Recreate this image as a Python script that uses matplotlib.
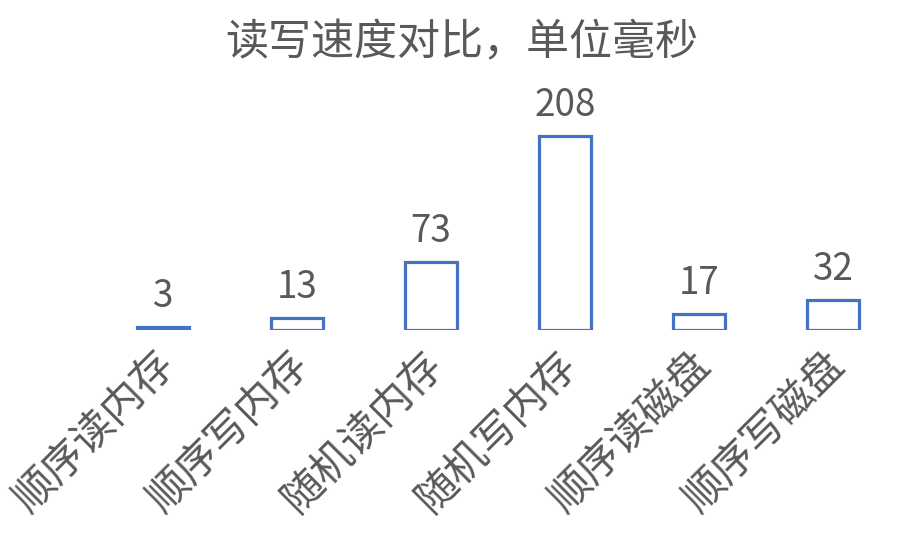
import matplotlib
matplotlib.use("Agg")
import matplotlib.pyplot as plt
from matplotlib.transforms import ScaledTranslation

plt.rcParams['font.family'] = ['Noto Sans CJK SC', 'DejaVu Sans']

categories = ['顺序读内存', '顺序写内存', '随机读内存', '随机写内存', '顺序读磁盘', '顺序写磁盘']
values = [3, 13, 73, 208, 17, 32]
title = '读写速度对比，单位毫秒'

gray = '#595959'
blue = '#4472C4'

fig = plt.figure(figsize=(9.24, 5.54), dpi=100)
ax = fig.add_axes([0.104, 0.404, 0.870, 0.421])

x = list(range(len(categories)))
bars = ax.bar(x, values, width=0.39, facecolor='white', edgecolor=blue, linewidth=2.3)
ax.set_xlim(-0.5, len(categories) - 0.5)
ax.set_ylim(0, 250)

for xi, v in zip(x, values):
    ax.annotate(str(v), (xi, v), xytext=(0, 8), textcoords='offset points',
                ha='center', va='bottom', fontsize=26.5, color=gray)

ax.set_xticks(x)
ax.set_xticklabels(categories, rotation=45, ha='right', va='top',
                   rotation_mode='anchor', fontsize=30, color=gray)
ax.tick_params(axis='x', length=0, pad=10)
shift = ScaledTranslation(-9 / 100, 0, fig.dpi_scale_trans)
for lbl in ax.get_xticklabels():
    lbl.set_transform(lbl.get_transform() + shift)
ax.set_yticks([])
for s in ax.spines.values():
    s.set_visible(False)

fig.text(0.5, 0.922, title, ha='center', va='center', fontsize=31, color=gray)

fig.savefig('out.png', dpi=100)
